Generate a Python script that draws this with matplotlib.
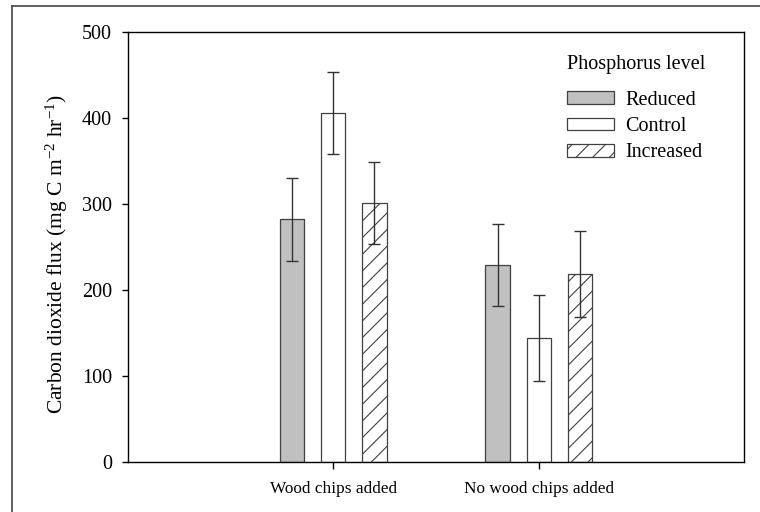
import numpy as np
import matplotlib
matplotlib.use("Agg")
import matplotlib.pyplot as plt
from matplotlib.lines import Line2D

# values
groups = ["Wood chips added", "No wood chips added"]
levels = ["Reduced", "Control", "Increased"]
reduced = [282, 229]
control = [406, 144]
increased = [301, 219]
reduced_err = [48, 48]
control_err = [48, 50]
increased_err = [48, 50]

plt.rcParams['font.family'] = ['Liberation Serif', 'DejaVu Serif']
plt.rcParams['mathtext.fontset'] = 'custom'
plt.rcParams['mathtext.rm'] = 'Liberation Serif'
plt.rcParams['mathtext.it'] = 'Liberation Serif:italic'
plt.rcParams['hatch.linewidth'] = 0.8
plt.rcParams['hatch.color'] = '#333333'

fig = plt.figure(figsize=(7.6, 5.12), dpi=100)
ax = fig.add_axes([128 / 760, 1 - 462 / 512, 616 / 760, 430 / 512])

x = np.arange(1, len(groups) + 1)
width = 0.118
offset = 0.2
edge = '#404040'
err_kw = dict(ecolor='#333333', elinewidth=1.0, capsize=4.6, capthick=1.0)

ax.bar(x - offset, reduced, width, yerr=reduced_err, color='#c0c0c0',
       edgecolor=edge, linewidth=0.9, label=levels[0], error_kw=err_kw)
ax.bar(x, control, width, yerr=control_err, color='white',
       edgecolor=edge, linewidth=0.9, label=levels[1], error_kw=err_kw)
ax.bar(x + offset, increased, width, yerr=increased_err, color='white',
       edgecolor=edge, linewidth=0.9, hatch='//', label=levels[2], error_kw=err_kw)

ax.set_xlim(0, 3)
ax.set_ylim(0, 500)
ax.set_yticks(range(0, 501, 100))
ax.set_xticks(x)
ax.set_xticklabels(groups, fontsize=12.4)
ax.tick_params(axis='y', direction='out', length=4.5, width=1.0, pad=7, labelsize=14.5)
ax.tick_params(axis='x', direction='out', length=5, width=1.0, pad=9)
for s in ax.spines.values():
    s.set_linewidth(1.0)

ax.set_ylabel(r"Carbon dioxide flux (mg C m$^{-2}$ hr$^{-1}$)", fontsize=15.5)
ax.yaxis.set_label_coords(-0.094, 0.484)

leg = ax.legend(loc='upper left', bbox_to_anchor=(0.713, 0.946), frameon=False,
                title="Phosphorus level", fontsize=14.5, title_fontsize=14.5,
                handlelength=2.33, handleheight=0.6, handletextpad=0.55,
                labelspacing=0.36, borderpad=0, borderaxespad=0,
                alignment='left')
leg._legend_box.sep = 12

# outer frame (left and top edges visible)
fig.add_artist(Line2D([11.5 / 760, 11.5 / 760], [0, 1 - 6 / 512],
                      transform=fig.transFigure, color='#444444', lw=1.2))
fig.add_artist(Line2D([11.5 / 760, 1], [1 - 6 / 512, 1 - 6 / 512],
                      transform=fig.transFigure, color='#444444', lw=1.2))

fig.savefig("out.png", dpi=100)
